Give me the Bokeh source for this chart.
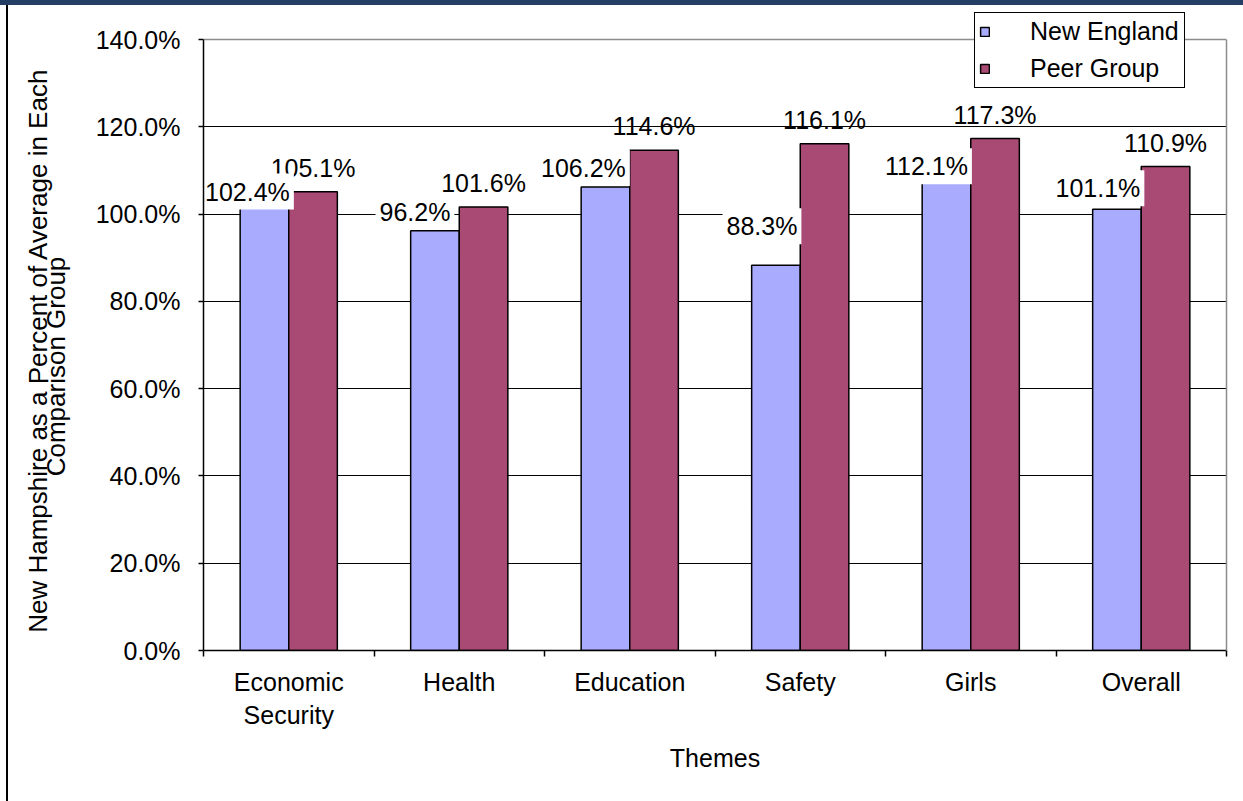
import math
from bokeh.plotting import figure
from bokeh.layouts import row
from bokeh.models import (ColumnDataSource, FactorRange, LinearAxis, FixedTicker,
                          PrintfTickFormatter, Range1d, Grid)
from bokeh.transform import dodge
from bokeh.core.properties import value
from bokeh.embed import file_html
from bokeh.resources import INLINE

# ---------------- data ----------------
categories = ["Economic\nSecurity", "Health", "Education", "Safety", "Girls", "Overall"]
new_england = [102.4, 96.2, 106.2, 88.3, 112.1, 101.1]
peer_group = [105.1, 101.6, 114.6, 116.1, 117.3, 110.9]
series_names = ["New England", "Peer Group"]
y_ticks = [0, 20, 40, 60, 80, 100, 120, 140]
x_title = "Themes"
y_title_lines = ["New Hampshire as a Percent of Average in Each", "Comparison Group"]

# label placement tweaks for the New England labels (pixels)
ne_label_dx = [-17, -20, -22, -14, -20, -19]
ne_label_dy = [12, 19, 19, 39, -5, 21]

# ---------------- layout / style ----------------
W, H = 1243, 801
TW = 80                     # width of the strip holding the y-axis title
FL, FR = 203, 1226          # plot area left / right (page pixels)
FT_AX, FB = 39, 650         # value axis: 140% / 0% positions
FTOP = 0                    # top of the drawing frame (room for the legend)
FONT = "Liberation Sans"
FS = "25px"
BLUE = "#A9ABFF"
PLUM = "#A84A74"
NAVY = "#243F66"
GRAY = "#8C8C8C"
n = len(categories)
YMAX = y_ticks[-1]
YSCALE = (FB - FT_AX) / YMAX
Y_END = YMAX + (FT_AX - FTOP) / YSCALE

# ---- strip with the y-axis title (its frame is aligned with the chart frame,
#      so the range maps straight to page pixels) ----
t = figure(width=TW, height=H, x_range=Range1d(0, TW), y_range=Range1d(FB, FTOP),
           x_axis_type=None, y_axis_type=None, toolbar_location=None,
           output_backend="svg", min_border=0)
t.background_fill_color = None
t.border_fill_color = None
t.outline_line_color = None
t.grid.visible = False
t.text(x=[37, 55], y=[350, 366], text=y_title_lines, angle=math.pi / 2,
       text_font=value(FONT), text_font_size="26px",
       text_color="black", text_align="center", text_baseline="middle")

# ---- main chart ----
p = figure(width=W - TW, height=H, x_range=FactorRange(*categories, range_padding=0),
           y_range=Range1d(0, Y_END), x_axis_type=None,
           toolbar_location=None, output_backend="svg",
           min_border_left=FL - TW, min_border_right=W - FR,
           min_border_top=FTOP, min_border_bottom=H - FB)
p.background_fill_color = None
p.border_fill_color = None
p.outline_line_color = None

src = ColumnDataSource(dict(
    cat=categories,
    ne=new_england,
    pg=peer_group,
    ne_txt=[f"{v:.1f}%" for v in new_england],
    pg_txt=[f"{v:.1f}%" for v in peer_group],
    ne_dx=ne_label_dx,
    ne_dy=[-d for d in ne_label_dy],
))

BW = 0.285
p.vbar(x=dodge("cat", -BW / 2, range=p.x_range), top="ne", width=BW, source=src,
       fill_color=BLUE, line_color="black", line_width=1.5, legend_label=series_names[0])
p.vbar(x=dodge("cat", BW / 2, range=p.x_range), top="pg", width=BW, source=src,
       fill_color=PLUM, line_color="black", line_width=1.5, legend_label=series_names[1])

p.text(x=dodge("cat", BW / 2, range=p.x_range), y="pg", text="pg_txt", source=src,
       y_offset=-24, text_font=value(FONT), text_font_size=FS, text_color="black",
       text_align="center", text_baseline="middle")
p.text(x=dodge("cat", -BW / 2, range=p.x_range), y="ne", text="ne_txt", source=src,
       x_offset="ne_dx", y_offset="ne_dy", text_font=value(FONT), text_font_size=FS,
       text_color="black", text_align="center", text_baseline="middle",
       background_fill_color="white", padding=4)

# grid: black lines inside, grey line at the top of the plot area
p.ygrid.ticker = FixedTicker(ticks=y_ticks[1:-1])
p.ygrid.grid_line_color = "black"
p.ygrid.grid_line_width = 1
p.add_layout(Grid(dimension=1, ticker=FixedTicker(ticks=[YMAX]),
                  grid_line_color=GRAY, grid_line_width=1.5))

# y axis
yax = p.yaxis[0]
yax.bounds = (0, YMAX)
yax.ticker = FixedTicker(ticks=y_ticks)
yax.formatter = PrintfTickFormatter(format="%.1f%%")
yax.major_tick_out = 5
yax.major_tick_in = 0
yax.minor_tick_line_color = None
yax.axis_line_width = 1.5
yax.major_tick_line_width = 1.5
yax.axis_line_color = "black"
yax.major_label_standoff = 18
yax.major_label_text_font = FONT
yax.major_label_text_font_size = FS
yax.major_label_text_color = "black"

# right border of the plot area
p.add_layout(LinearAxis(ticker=FixedTicker(ticks=[]), bounds=(0, YMAX),
                        axis_line_color=GRAY, axis_line_width=1.5,
                        major_tick_line_color=None, minor_tick_line_color=None,
                        major_tick_out=0, minor_tick_out=0, major_label_standoff=0),
             "right")

# x axis: labels at category centres, ticks at category boundaries
xax = LinearAxis(
    ticker=FixedTicker(ticks=[i + 0.5 for i in range(n)], minor_ticks=list(range(n + 1))),
    major_label_overrides={i + 0.5: c for i, c in enumerate(categories)},
    major_tick_out=0, major_tick_in=0, major_tick_line_color=None,
    minor_tick_out=6, minor_tick_in=0, minor_tick_line_color="black", minor_tick_line_width=1.5,
    axis_line_color="black", axis_line_width=1.5,
    major_label_standoff=11, major_label_text_font=FONT, major_label_text_font_size=FS,
    major_label_text_color="black",
    axis_label=x_title, axis_label_text_font=FONT, axis_label_text_font_size=FS,
    axis_label_text_font_style="normal", axis_label_text_color="black",
    axis_label_standoff=12,
)
p.add_layout(xax, "below")

# legend
lg = p.legend[0]
lg.location = (974 - FL, FB - 88)
lg.orientation = "vertical"
lg.padding = 4
lg.margin = 0
lg.spacing = 8
lg.glyph_width = 11
lg.glyph_height = 11
lg.label_standoff = 40
lg.label_width = 150
lg.label_text_font = FONT
lg.label_text_font_size = FS
lg.label_text_color = "black"
lg.border_line_color = "black"
lg.border_line_width = 1
lg.border_line_alpha = 1
lg.background_fill_color = "white"
lg.background_fill_alpha = 1

# page decorations (top band + left rule) painted behind the transparent canvases
page = row(t, p, spacing=0)
page.styles = {
    "background-color": "white",
    "background-image": f"linear-gradient({NAVY}, {NAVY}), linear-gradient(#000000, #000000)",
    "background-size": "100% 5px, 2px 100%",
    "background-position": "0px 0px, 6px 0px",
    "background-repeat": "no-repeat",
}

open("out.html", "w").write(file_html(page, INLINE))
